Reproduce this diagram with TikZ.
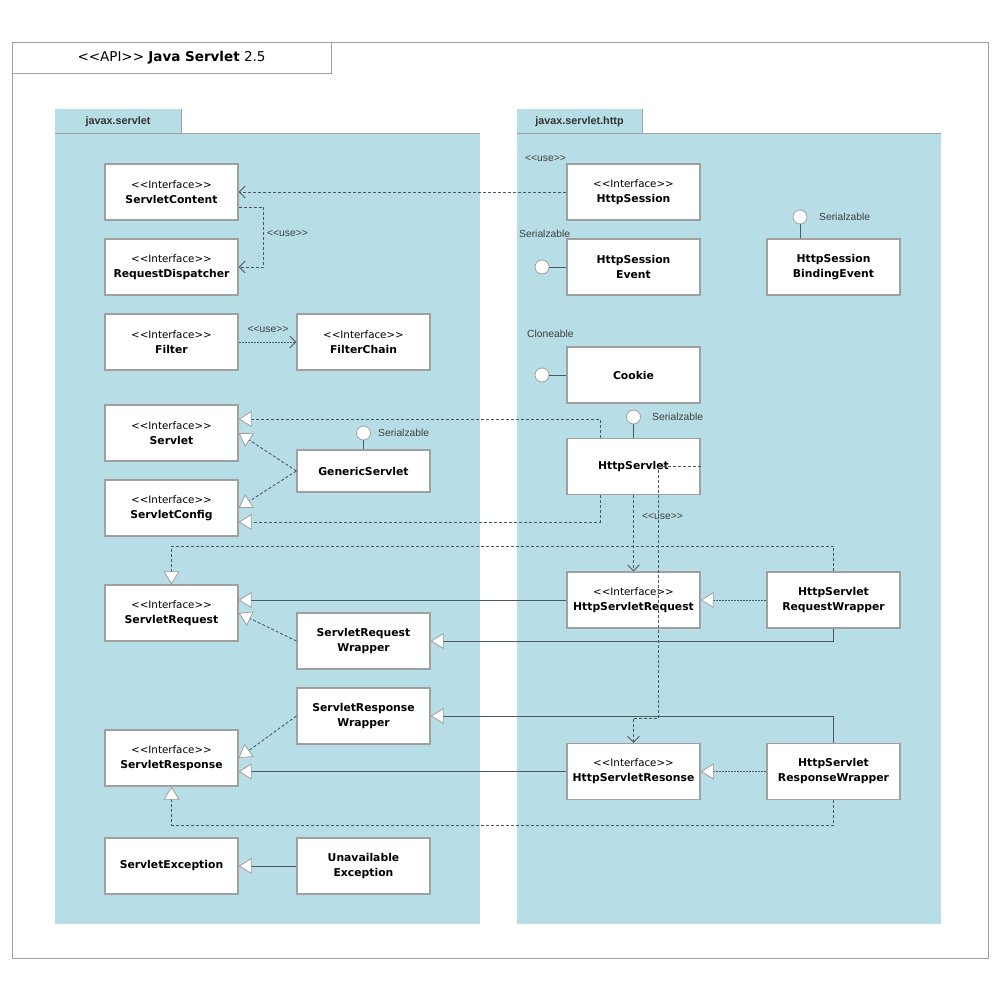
\documentclass[tikz,border=0pt]{standalone}
\usepackage{fontspec}
\setmainfont{DejaVu Sans}
\newfontfamily\arialfont{Liberation Sans}
\usetikzlibrary{arrows.meta, calc}
\definecolor{pkgfill}{RGB}{183,221,230}
\definecolor{boxgray}{RGB}{160,160,160}
\definecolor{linecol}{RGB}{74,88,100}
\newcommand{\stl}{<\kern0pt<}
\newcommand{\stg}{>\kern0pt>}
\newcommand{\ifc}{{\mdseries\fontsize{10.3}{15}\selectfont\stl Interface\stg}}

\begin{document}
\begin{tikzpicture}[x=1pt, y=-1pt,
    cls/.style={draw=boxgray, line width=1.2pt, fill=white, minimum width=133pt,
                minimum height=56pt, inner sep=0pt, align=center,
                font=\fontsize{10.8}{15}\selectfont\bfseries},
    lbl/.style={font=\arialfont\fontsize{10.3}{12}\selectfont, text=black!75, inner sep=0pt},
    tabtxt/.style={font=\arialfont\bfseries\fontsize{10.8}{12}\selectfont, text=black!80},
    lolli/.style={circle, draw=boxgray, line width=0.8pt, fill=white, minimum size=14pt, inner sep=0pt},
    conn/.style={draw=linecol, line width=0.9pt},
    gen/.style={conn, -{Triangle[length=13pt, width=16pt, fill=white, color=boxgray, line width=0.8pt]}},
    real/.style={gen, dash pattern=on 3pt off 2pt},
    dots/.style={gen, dash pattern=on 2pt off 1pt},
    dep/.style={conn, dash pattern=on 3pt off 2pt, -{Straight Barb[length=6pt, width=12pt, color=linecol]}},
]
\useasboundingbox (0,0) rectangle (1000,1000);

% frame and title
\draw[boxgray, line width=0.8pt] (12,42) rectangle (988,958);
\node[draw=boxgray, line width=0.8pt, fill=white, minimum width=319pt, minimum height=31pt,
      inner sep=0pt, font=\fontsize{13.5}{15}\selectfont] (title) at (171.5,57.5)
      {\stl API\stg{} \textbf{Java Servlet} 2.5};

% packages
\fill[pkgfill] (55,109) rectangle (181,134);
\fill[pkgfill] (55,134) rectangle (480,924);
\draw[boxgray, line width=1pt] (181,109) -- (181,134) (55,134) -- (480,134);
\node[tabtxt] (ltab) at (118,122) {javax.servlet};

\fill[pkgfill] (517,109) rectangle (642,134);
\fill[pkgfill] (517,134) rectangle (941,924);
\draw[boxgray, line width=1pt] (642,109) -- (642,134) (517,134) -- (941,134);
\node[tabtxt] (rtab) at (579.5,122) {javax.servlet.http};

% javax.servlet
\node[cls] (sctx) at (171.5,192) {\ifc\\ServletContent};
\node[cls] (rdis) at (171.5,267) {\ifc\\RequestDispatcher};
\node[cls] (filt) at (171.5,342) {\ifc\\Filter};
\node[cls] (fch)  at (363.5,342) {\ifc\\FilterChain};
\node[cls] (svlt) at (171.5,433) {\ifc\\Servlet};
\node[cls] (scfg) at (171.5,508) {\ifc\\ServletConfig};
\node[cls, minimum height=42pt] (gsv) at (363.5,471) {GenericServlet};
\node[cls] (sreq) at (171.5,613) {\ifc\\ServletRequest};
\node[cls] (srw)  at (363.5,641) {ServletRequest\\Wrapper};
\node[cls] (spw)  at (363.5,716) {ServletResponse\\Wrapper};
\node[cls] (sres) at (171.5,758) {\ifc\\ServletResponse};
\node[cls] (sexc) at (171.5,866) {ServletException};
\node[cls] (uexc) at (363.5,866) {Unavailable\\Exception};

% javax.servlet.http
\node[cls] (hses) at (633.5,192) {\ifc\\HttpSession};
\node[cls] (hsev) at (633.5,267) {HttpSession\\Event};
\node[cls] (hsbe) at (833.5,267) {HttpSession\\BindingEvent};
\node[cls] (cook) at (633.5,375) {Cookie};
\node[cls] (hsvt) at (633.5,466.5) {HttpServlet};
\node[cls] (hsrq) at (633.5,600) {\ifc\\HttpServletRequest};
\node[cls] (hsrw) at (833.5,600) {HttpServlet\\RequestWrapper};
\node[cls] (hsrs) at (633.5,771.5) {\ifc\\HttpServletResonse};
\node[cls] (hspw) at (833.5,771.5) {HttpServlet\\ResponseWrapper};

% interfaces as lollipops
\node[lolli] (ser1) at (800,217) {};
\node[lolli] (ser2) at (542,267) {};
\node[lolli] (clon) at (542,375) {};
\node[lolli] (ser3) at (633.5,417) {};
\node[lolli] (ser4) at (363.5,433) {};
\draw[conn] (ser1) -- (ser1 |- hsbe.north);
\draw[conn] (ser2) -- (hsev);
\draw[conn] (clon) -- (cook);
\draw[conn] (ser3) -- (hsvt);
\draw[conn] (ser4) -- (gsv);
\node[lbl, anchor=west] (ser1l) at (819,217) {Serialzable};
\node[lbl, anchor=west] (ser2l) at (519,234) {Serialzable};
\node[lbl, anchor=west] (clonl) at (527,334) {Cloneable};
\node[lbl, anchor=west] (ser3l) at (652,417) {Serialzable};
\node[lbl, anchor=west] (ser4l) at (378,433) {Serialzable};

% dependencies
\draw[dep] (hses.west) -- (sctx.east);
\node[lbl, anchor=west] (use1) at (525,159) {\stl use\stg};
\draw[dep] ([yshift=-15pt]sctx.east) -- ++(25,0) |- (rdis.east);
\node[lbl, anchor=west] (use2) at (267,234) {\stl use\stg};
\draw[dep, dash pattern=on 2pt off 1pt] (filt) -- (fch);
\node[lbl] (use3) at (268,330) {\stl use\stg};
\draw[dep] (hsvt.south) -- (hsrq.north);
\node[lbl, anchor=west] (use4) at (642,517) {\stl use\stg};
\draw[dep] (hsvt.east) -- ++(-42,0) -- ++(0,251.5) -| (hsrs.north);

% realizations and generalizations
\draw[real] ([xshift=-33.5pt]hsvt.north) |- ([yshift=14pt]svlt.east);
\draw[real] ([xshift=-33.5pt]hsvt.south) |- ([yshift=-14pt]scfg.east);
\draw[real] (gsv.west) -- (svlt.east);
\draw[real] (gsv.west) -- (scfg.east);

\draw[gen] (hsrq.west) -- (sreq.east |- hsrq.west);
\draw[dots] (hsrw) -- (hsrq);
\draw[real] (hsrw.north) -- ++(0,-25) -| (sreq.north);
\draw[gen] (hsrw.south) |- (srw.east);
\draw[real] (srw.west) -- (sreq.east);

\draw[gen] (hspw.north) |- (spw.east);
\draw[real] (spw.west) -- (sres.east);
\draw[gen] (hsrs.west) -- (sres.east |- hsrs.west);
\draw[dots] (hspw) -- (hsrs);
\draw[real] (hspw.south) -- ++(0,25) -| (sres.south);

\draw[gen] (uexc) -- (sexc);
\end{tikzpicture}
\end{document}
